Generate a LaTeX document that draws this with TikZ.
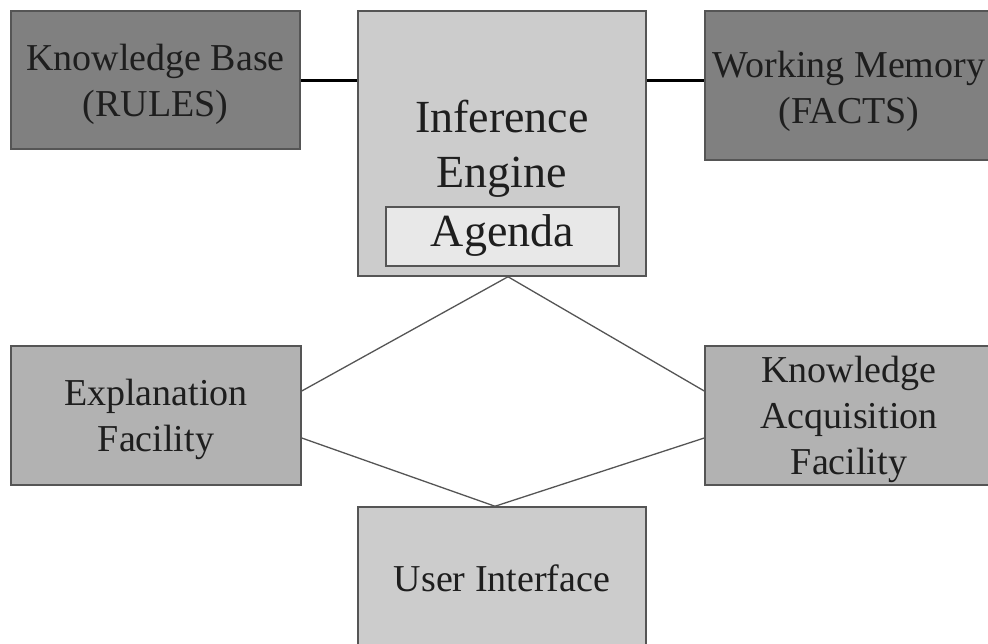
\documentclass[tikz,border=0pt]{standalone}
\usepackage{fontspec}
\setmainfont{Liberation Serif}
\definecolor{darkbox}{HTML}{808080}
\definecolor{midbox}{HTML}{B2B2B2}
\definecolor{lightbox}{HTML}{CCCCCC}
\definecolor{agendabox}{HTML}{E8E8E8}
\definecolor{edgegray}{HTML}{555555}
\definecolor{txtgray}{HTML}{1E1E1E}
\tikzset{
  box/.style={draw=edgegray, line width=1.5pt, inner sep=0pt},
  lbl/.style={align=center, text=txtgray, inner sep=0pt, font=\fontsize{38}{46}\selectfont},
  biglbl/.style={align=center, text=txtgray, inner sep=0pt, font=\fontsize{46}{55}\selectfont},
  thick link/.style={draw=black, line width=3pt},
  thin link/.style={draw=edgegray, line width=1.3pt},
}
\begin{document}
\begin{tikzpicture}[x=1pt,y=-1pt]
\useasboundingbox (0,0) rectangle (988,644);
\fill[white] (0,0) rectangle (988,644);
\node[box, fill=darkbox, minimum width=289pt, minimum height=138pt] (KB) at (155.5,80) {};
\node[lbl] (KBtext) at (155.5,84) {Knowledge Base\\(RULES)};
\node[box, fill=lightbox, minimum width=288pt, minimum height=265pt] (IE) at (502,143.5) {};
\node[biglbl] (IEtext) at (502,149) {Inference\\Engine};
\node[box, fill=agendabox, minimum width=233pt, minimum height=59pt] (AG) at (502.5,236.5) {};
\node[biglbl] (AGtext) at (502.5,235.5) {Agenda};
\node[box, fill=darkbox, minimum width=288pt, minimum height=149pt] (WM) at (849,85.5) {};
\node[lbl] (WMtext) at (849,91.5) {Working Memory\\(FACTS)};
\node[box, fill=midbox, minimum width=290pt, minimum height=139pt] (EF) at (156,415.5) {};
\node[lbl] (EFtext) at (156,419.5) {Explanation\\Facility};
\node[box, fill=midbox, minimum width=288pt, minimum height=139pt] (KAF) at (849,415.5) {};
\node[lbl] (KAFtext) at (849,419) {Knowledge\\Acquisition\\Facility};
\node[box, fill=lightbox, minimum width=288pt, minimum height=150pt] (UI) at (502,582) {};
\node[lbl] (UItext) at (502,578) {User Interface};
\draw[thick link] (KB.east) ++(0,1) coordinate (kbr) -- (kbr -| IE.west);
\draw[thick link] (kbr -| IE.east) -- (kbr -| WM.west);
\draw[thin link] ([yshift=24.5pt]EF.east) -- ([xshift=6pt]IE.south) -- ([yshift=24.5pt]KAF.west);
\draw[thin link] ([yshift=-22.5pt]EF.east) -- ([xshift=-7pt]UI.north) -- ([yshift=-22.5pt]KAF.west);
\end{tikzpicture}
\end{document}
